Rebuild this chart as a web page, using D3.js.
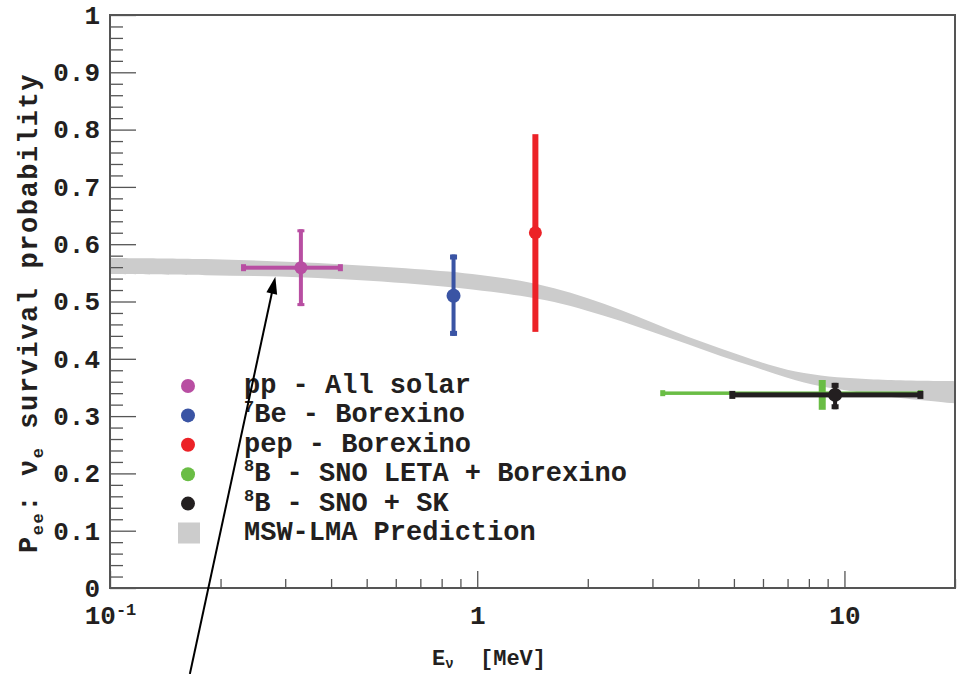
<!DOCTYPE html>
<html><head><meta charset="utf-8">
<script src="https://cdn.jsdelivr.net/npm/d3@7"></script>
<style>
body{margin:0;background:#fff}
text{font-family:"Liberation Mono","DejaVu Sans Mono",monospace;font-weight:bold;fill:#231f20}
</style>
</head><body>
<svg id="c" width="961" height="674"></svg>
<script>
// ---------- data ----------
const seriesNames = ["pp - All solar", "7Be - Borexino", "pep - Borexino", "8B - SNO LETA + Borexino", "8B - SNO + SK"];
const energy       = [0.331, 0.862, 1.44, 8.7, 9.43];
const survival     = [0.559, 0.510, 0.620, 0.340, 0.337];
const survivalLow  = [0.492, 0.440, 0.447, 0.311, 0.312];
const survivalHigh = [0.626, 0.582, 0.792, 0.363, 0.358];
const energyLow    = [0.231, null, null, 3.2, 4.95];
const energyHigh   = [0.424, null, null, 16.1, 16.1];

const bandEnergy = [0.1, 0.182, 0.34, 0.638, 0.969, 1.31, 1.62, 1.99, 2.46, 3.03, 3.73, 4.60, 5.67, 6.99, 8.62, 10.6, 13.1, 20];
const bandHigh   = [0.576, 0.574, 0.568, 0.558, 0.548, 0.536, 0.523, 0.506, 0.485, 0.462, 0.439, 0.418, 0.398, 0.381, 0.371, 0.366, 0.363, 0.361];
const bandLow    = [0.548, 0.546, 0.542, 0.532, 0.521, 0.510, 0.499, 0.484, 0.466, 0.446, 0.426, 0.405, 0.386, 0.367, 0.352, 0.343, 0.334, 0.322];

const yMajorTicks = [0, 0.1, 0.2, 0.3, 0.4, 0.5, 0.6, 0.7, 0.8, 0.9, 1];
const yTickLabels = ["0", "0.1", "0.2", "0.3", "0.4", "0.5", "0.6", "0.7", "0.8", "0.9", "1"];
const xMajorTicks = [0.1, 1, 10];
const xTickLabels = [["10", "-1"], ["1", ""], ["10", ""]];
const xMinorTicks = [0.2,0.3,0.4,0.5,0.6,0.7,0.8,0.9,2,3,4,5,6,7,8,9,20];

const legendLabels = [
  ["", "pp - All solar"],
  ["7", "Be - Borexino"],
  ["", "pep - Borexino"],
  ["8", "B - SNO LETA + Borexino"],
  ["8", "B - SNO + SK"],
  ["", "MSW-LMA Prediction"]
];
// annotation arrow (data coordinates: tip and tail)
const arrowTip  = [0.282, 0.543];
const arrowTail = [0.165, -0.150];

// ---------- styles ----------
const colors = ["#b84ea2", "#3a54a4", "#ec2227", "#6abd45", "#231f20"];
const styles = [
  {vw:4, hw:4, r:6.5, vcap:[7,3], hcap:[5,7], dot:true},
  {vw:4, hw:0, r:7,   vcap:[7,5], hcap:null, dot:true},
  {vw:6, hw:0, r:6.5, vcap:null,  hcap:null, dot:true},
  {vw:7, hw:3.5, r:0, vcap:null,  hcap:[5,6], dot:false},
  {vw:4, hw:5, r:7,   vcap:[7,5], hcap:[6,8], dot:true}
];
const bandColor = "#cccccc";
const axisColor = "#555";

// ---------- scales ----------
const svg = d3.select("#c");
const L = 110, R = 955, T = 15, B = 588;
const x = d3.scaleLog().domain([0.1, 20]).range([L, R]);
const y = d3.scaleLinear().domain([0, 1]).range([B, T]);

// band
const bandData = bandEnergy.map((e, i) => ({e, hi: bandHigh[i], lo: bandLow[i]}));
svg.append("path").datum(bandData)
  .attr("fill", bandColor)
  .attr("d", d3.area().curve(d3.curveCatmullRom.alpha(0.5))
    .x(d => x(d.e)).y0(d => y(d.lo)).y1(d => y(d.hi)));

// axes
const yMinor = d3.range(0, 1.0001, 0.02).filter(v => Math.abs(v*10 - Math.round(v*10)) > 1e-6);
svg.append("g").attr("transform", `translate(${L},0)`)
  .call(d3.axisLeft(y).tickValues(yMinor).tickSizeInner(-13).tickSizeOuter(0).tickFormat(""))
  .call(g => g.select(".domain").remove())
  .call(g => g.selectAll("line").attr("stroke", axisColor).attr("stroke-width", 1.3));
svg.append("g").attr("transform", `translate(${L},0)`)
  .call(d3.axisLeft(y).tickValues(yMajorTicks).tickSizeInner(-26).tickSizeOuter(0).tickPadding(10)
    .tickFormat((d, i) => yTickLabels[i]))
  .call(g => g.select(".domain").remove())
  .call(g => g.selectAll("line").attr("stroke", axisColor).attr("stroke-width", 1.3))
  .call(g => g.selectAll("text").attr("font-size", 26).attr("font-family", null).attr("fill", "#231f20"));

svg.append("g").attr("transform", `translate(0,${B})`)
  .call(d3.axisBottom(x).tickValues(xMinorTicks).tickSizeInner(-9).tickSizeOuter(0).tickFormat(""))
  .call(g => g.select(".domain").remove())
  .call(g => g.selectAll("line").attr("stroke", axisColor).attr("stroke-width", 1.3));
const xMaj = svg.append("g").attr("transform", `translate(0,${B})`)
  .call(d3.axisBottom(x).tickValues(xMajorTicks).tickSizeInner(-17).tickSizeOuter(0).tickPadding(17).tickFormat(""))
  .call(g => g.select(".domain").remove())
  .call(g => g.selectAll("line").attr("stroke", axisColor).attr("stroke-width", 1.3));
xMaj.selectAll(".tick text").each(function(d, i) {
  const t = d3.select(this).attr("font-size", 26).attr("font-family", null).attr("fill", "#231f20")
    .attr("dy", null).attr("y", 36);
  t.append("tspan").text(xTickLabels[i][0]);
  if (xTickLabels[i][1]) t.append("tspan").attr("font-size", 17).attr("dy", -9).text(xTickLabels[i][1]);
});

// frame
svg.append("rect").attr("x", L).attr("y", T).attr("width", R - L).attr("height", B - T)
  .attr("fill", "none").attr("stroke", axisColor).attr("stroke-width", 2);

// axis titles
const xt = svg.append("text").attr("x", 432).attr("y", 665).attr("font-size", 22);
xt.append("tspan").text("E");
xt.append("tspan").attr("font-size", 14).attr("dy", 3).text("ν");
xt.append("tspan").attr("x", 480).attr("dy", -3).text("[MeV]");

const yt = svg.append("text").attr("transform", "translate(37,553) rotate(-90)").attr("font-size", 27);
yt.append("tspan").text("P");
yt.append("tspan").attr("font-size", 17).attr("dy", 6).text("ee");
yt.append("tspan").attr("dy", -6).text(": ");
yt.append("tspan").text("ν");
yt.append("tspan").attr("font-size", 17).attr("dy", 6).text("e");
yt.append("tspan").attr("dy", -6).text(" survival probability");
{
  const len = yt.node().getComputedTextLength();
  const n = yt.text().length;
  yt.attr("letter-spacing", Math.max(0, (480 - len) / n));
}

// data points with error bars
const pts = energy.map((e, i) => ({i, e, p: survival[i], pl: survivalLow[i], ph: survivalHigh[i],
  el: energyLow[i], eh: energyHigh[i], c: colors[i], s: styles[i]}));
const gp = svg.append("g");
pts.forEach(d => {
  const g = gp.append("g").attr("fill", d.c).attr("stroke", "none");
  const cx = x(d.e), cy = y(d.p);
  if (d.el != null) {
    g.append("rect").attr("x", x(d.el)).attr("y", cy - d.s.hw/2)
      .attr("width", x(d.eh) - x(d.el)).attr("height", d.s.hw);
    if (d.s.hcap) [d.el, d.eh].forEach(v => g.append("rect")
      .attr("x", x(v) - d.s.hcap[0]/2).attr("y", cy - d.s.hcap[1]/2)
      .attr("width", d.s.hcap[0]).attr("height", d.s.hcap[1]));
  }
  g.append("rect").attr("x", cx - d.s.vw/2).attr("y", y(d.ph))
    .attr("width", d.s.vw).attr("height", y(d.pl) - y(d.ph));
  if (d.s.vcap) [d.pl, d.ph].forEach((v, k) => g.append("rect")
    .attr("x", cx - d.s.vcap[0]/2).attr("y", k === 0 ? y(v) - d.s.vcap[1] : y(v))
    .attr("width", d.s.vcap[0]).attr("height", d.s.vcap[1]));
  if (d.s.dot) g.append("circle").attr("cx", cx).attr("cy", cy).attr("r", d.s.r);
});

// legend
const lg = svg.append("g");
legendLabels.forEach((lab, i) => {
  const cy = 386 + i * 29.4;
  if (i < 5) lg.append("circle").attr("cx", 188).attr("cy", cy).attr("r", 7).attr("fill", colors[i]);
  else lg.append("rect").attr("x", 178).attr("y", cy - 10.5).attr("width", 22).attr("height", 21).attr("fill", bandColor);
  const t = lg.append("text").attr("x", 244).attr("y", cy + 7).attr("font-size", 27);
  const [sup, main] = lab;
  if (sup) {
    t.append("tspan").attr("font-size", 17).attr("dy", -10).text(sup);
    t.append("tspan").attr("dy", 10).text(main);
  } else t.append("tspan").text(main);
});

// annotation arrow
const tx = x(arrowTip[0]), ty = y(arrowTip[1]);
const bx = x(arrowTail[0]), by = y(arrowTail[1]);
const len = Math.hypot(tx - bx, ty - by), ux = (tx - bx)/len, uy = (ty - by)/len;
const hl = 17, hw = 5.5;
const baseX = tx - ux*hl, baseY = ty - uy*hl;
svg.append("line").attr("x1", bx).attr("y1", by).attr("x2", baseX + ux*2).attr("y2", baseY + uy*2)
  .attr("stroke", "#000").attr("stroke-width", 2);
svg.append("path").attr("fill", "#000")
  .attr("d", `M${tx},${ty}L${baseX - uy*hw},${baseY + ux*hw}L${baseX + uy*hw},${baseY - ux*hw}Z`);
</script>
</body></html>
